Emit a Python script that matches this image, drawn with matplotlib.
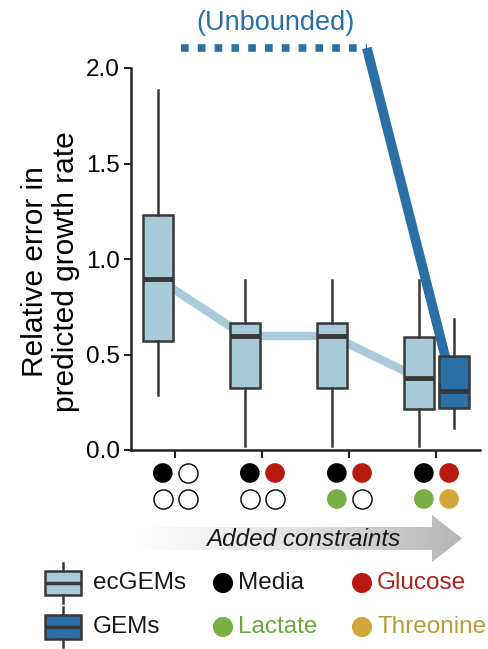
import matplotlib.pyplot as plt
import numpy as np
from matplotlib.patches import Polygon, Rectangle
from matplotlib.colors import LinearSegmentedColormap

plt.rcParams['font.family'] = ['Liberation Sans', 'DejaVu Sans']

categories = [1, 2, 3, 4]
# whislo, q1, median, q3, whishi
ec_stats = [
    [0.29, 0.57, 0.895, 1.23, 1.885],
    [0.02, 0.325, 0.597, 0.665, 0.89],
    [0.02, 0.325, 0.597, 0.665, 0.89],
    [0.02, 0.215, 0.377, 0.59, 0.89],
]
gem_cats = [4]
gem_stats = [[0.115, 0.22, 0.31, 0.49, 0.686]]
unbounded = 2.105
gem_line = [unbounded, unbounded, unbounded, 0.31]

media = [1, 1, 1, 1]
glucose = [0, 1, 1, 1]
lactate = [0, 0, 1, 1]
threonine = [0, 0, 0, 1]

light = '#a7cbd9'
dark = '#2a6fa6'
edge = '#383838'
c_media, c_glu, c_lac, c_thr = 'black', '#b81a10', '#78b043', '#d4a73a'

fig = plt.figure(figsize=(4.89, 6.49), dpi=100)
W, H = 489, 649
ax = fig.add_axes([131 / W, 1 - 450 / H, (480 - 131) / W, (450 - 68) / H])

def to_bxp(s):
    return dict(whislo=s[0], q1=s[1], med=s[2], q3=s[3], whishi=s[4], fliers=[])

off = 0.2
ec_x = [c - off for c in categories]
gem_x = [c + off for c in categories]
gem_box_x = [c + off for c in gem_cats]

ax.plot(ec_x, [s[2] for s in ec_stats], color=light, lw=6, zorder=1, solid_capstyle='butt')
ax.plot(gem_x[2:], gem_line[2:], color=dark, lw=7, zorder=1, clip_on=False, solid_capstyle='butt')
dot_x = [gem_x[0] - 0.13] + gem_x[1:3]
ax.plot(dot_x, gem_line[:3], color=dark, lw=5.5, zorder=1, clip_on=False,
        dashes=(1, 1.2), dash_capstyle='butt')
ax.text(np.mean(gem_x[:3]) - 0.05, 2.235, '(Unbounded)', color=dark, fontsize=19.5,
        ha='center', va='center', clip_on=False)

common = dict(widths=0.35, patch_artist=True, showfliers=False, showcaps=False,
              whiskerprops=dict(color=edge, lw=1.8),
              medianprops=dict(color=edge, lw=3.5, solid_capstyle='butt'))
b1 = ax.bxp([to_bxp(s) for s in ec_stats], positions=ec_x,
            boxprops=dict(facecolor=light, edgecolor=edge, lw=1.8), **common)
b2 = ax.bxp([to_bxp(s) for s in gem_stats], positions=gem_box_x,
            boxprops=dict(facecolor=dark, edgecolor=edge, lw=1.8), **common)
for b in (b1, b2):
    for k in b:
        for a in b[k]:
            a.set_zorder(3)

ax.set_xlim(0.49, 4.5)
ax.set_ylim(0, 2.0)
ax.set_xticks(categories)
ax.set_xticklabels([])
ax.set_yticks([0, 0.5, 1.0, 1.5, 2.0])
ax.set_yticklabels(['0.0', '0.5', '1.0', '1.5', '2.0'])
ax.tick_params(labelsize=17.5, width=1.5, length=5, color='#222', pad=3)
ax.tick_params(axis='x', length=6, pad=0)
for s in ['top', 'right']:
    ax.spines[s].set_visible(False)
for s in ['left', 'bottom']:
    ax.spines[s].set_linewidth(1.8)
    ax.spines[s].set_color('#222')
ax.set_ylabel('Relative error in\npredicted growth rate', fontsize=21.5, labelpad=4,
              linespacing=1.17, y=0.466)

# constraint indicator circles
axc = fig.add_axes([131 / W, 1 - 512 / H, (480 - 131) / W, (512 - 460) / H])
axc.set_xlim(0.49, 4.5)
axc.set_ylim(0, 1)
axc.axis('off')
dx = 0.145
rows = [(media, c_media, -dx, 0.75), (glucose, c_glu, dx, 0.75),
        (lactate, c_lac, -dx, 0.25), (threonine, c_thr, dx, 0.25)]
for vals, col, ox, oy in rows:
    for c, v in zip(categories, vals):
        if v:
            axc.scatter(c + ox, oy, s=200, color=col, edgecolors='none')
        else:
            axc.scatter(c + ox, oy, s=190, facecolors='white', edgecolors='black', linewidths=1.0)

# overlay in pixel coords for arrow and legend
ov = fig.add_axes([0, 0, 1, 1], zorder=-1)
ov.set_xlim(0, W)
ov.set_ylim(H, 0)
ov.axis('off')
pts = [(133, 527), (432, 527), (432, 515), (462, 538.5), (432, 562), (432, 550), (133, 550)]
poly = Polygon(pts, closed=True, facecolor='none', edgecolor='none')
ov.add_patch(poly)
cmap = LinearSegmentedColormap.from_list('g', ['#ffffff', '#e2e2e2', '#b6b6b6'])
grad = np.linspace(0, 1, 256).reshape(1, -1)
im = ov.imshow(grad, cmap=cmap, extent=(133, 462, 562, 515), aspect='auto')
im.set_clip_path(poly)
ov.text(303, 539, 'Added constraints', fontsize=17.5, style='italic', color='#1a1a1a',
        ha='center', va='center')

# legend
for yc, col, lab in [(583, light, 'ecGEMs'), (627, dark, 'GEMs')]:
    ov.add_patch(Rectangle((45, yc - 12), 36, 24, facecolor=col, edgecolor=edge, lw=1.8))
    ov.plot([45, 81], [yc, yc], color=edge, lw=2.5, solid_capstyle='butt')
    ov.plot([63, 63], [yc - 20, yc - 12], color=edge, lw=1.8)
    ov.plot([63, 63], [yc + 12, yc + 20], color=edge, lw=1.8)
    ov.text(93, yc, lab, fontsize=17.5, va='center', ha='left', color='#1a1a1a')

legend_items = [(223, 583, c_media, 'Media', '#1a1a1a'), (362, 583, c_glu, 'Glucose', '#b0201a'),
                (223, 627, c_lac, 'Lactate', '#6fa43e'), (362, 627, c_thr, 'Threonine', '#b99a38')]
for x, y, col, lab, tcol in legend_items:
    ov.scatter(x, y, s=210, color=col, edgecolors='none')
    ov.text(x + 15, y, lab, fontsize=17.5, va='center', ha='left', color=tcol)

fig.savefig('out.png', dpi=100)
